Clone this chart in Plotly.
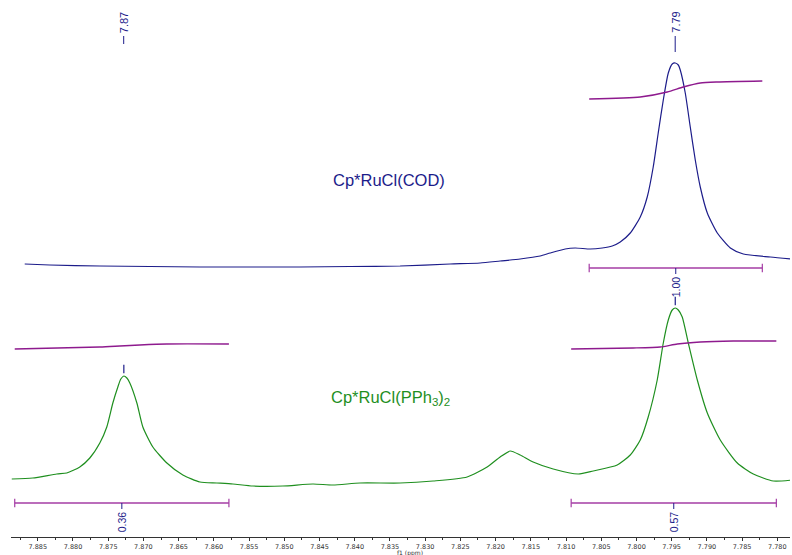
import plotly.graph_objects as go

# 1H NMR, aromatic window, two stacked spectra (ppm axis runs high -> low)
PPM_WINDOW = [7.8888, 7.7782]
PPM_TICKS = [7.885, 7.880, 7.875, 7.870, 7.865, 7.860, 7.855, 7.850, 7.845, 7.840, 7.835,
             7.830, 7.825, 7.820, 7.815, 7.810, 7.805, 7.800, 7.795, 7.790, 7.785, 7.780]

# Cp*RuCl(COD) trace, intensity relative to its own baseline (a.u.)
cod_ppm = [7.88685, 7.88330, 7.87619, 7.86909, 7.86198, 7.85488, 7.84777, 7.84067, 7.83356,
           7.82646, 7.82220, 7.81935, 7.81651, 7.81367, 7.81225, 7.81012, 7.80870, 7.80657,
           7.80486, 7.80344, 7.80230, 7.80088, 7.79946, 7.79847, 7.79762, 7.79691, 7.79619,
           7.79548, 7.79492, 7.79449, 7.79406, 7.79378, 7.79307, 7.79236, 7.79165, 7.79094,
           7.78994, 7.78852, 7.78667, 7.78483, 7.78099, 7.77787]
cod_int = [2, 1, 0, -0.5, -1, -1, -1, -0.5, 0,
           2, 3, 5, 7, 10, 13, 17, 18, 17,
           18, 20, 24, 33, 49, 69, 99, 133, 166,
           193, 202, 203, 201, 196, 173, 139, 106, 79,
           53, 33, 18, 12, 9, 7]

# Cp*RuCl(PPh3)2 trace
pph3_ppm = [7.88869, 7.88571, 7.88230, 7.88088, 7.87903, 7.87761, 7.87619, 7.87520, 7.87434,
            7.87363, 7.87321, 7.87278, 7.87235, 7.87193, 7.87093, 7.87008, 7.86866, 7.86667,
            7.86440, 7.86198, 7.85957, 7.85729, 7.85445, 7.85019, 7.84593, 7.84308, 7.83925,
            7.83356, 7.82887, 7.82404, 7.82120, 7.81935, 7.81793, 7.81651, 7.81467, 7.81182,
            7.80827, 7.80614, 7.80273, 7.80088, 7.79946, 7.79833, 7.79705, 7.79619, 7.79548,
            7.79492, 7.79449, 7.79406, 7.79350, 7.79264, 7.79136, 7.78994, 7.78810, 7.78568,
            7.78341, 7.78057, 7.77787]
pph3_int = [6, 7, 11, 12, 18, 27, 42, 58, 82,
            98, 106, 109, 107, 102, 82, 58, 38, 22,
            10, 3, 2, 1, -1, -1, 1, 0, 2,
            2, 4, 8, 18, 28, 34, 30, 23, 16,
            11, 14, 20, 30, 45, 68, 105, 142, 165,
            175, 177, 175, 168, 142, 105, 72, 45, 22,
            11, 4, 5]

# integral curves (same units, drawn above each trace)
cod_integral_ppm = [7.80671, 7.79946, 7.79563, 7.79335, 7.79094, 7.78852, 7.78213]
cod_integral = [167, 169, 174, 179, 183, 184, 185]
pph3_integral_left_ppm = [7.88827, 7.87619, 7.87335, 7.87051, 7.86667, 7.85786]
pph3_integral_left = [136, 138, 139, 140, 141, 141]
pph3_integral_right_ppm = [7.80927, 7.80046, 7.79662, 7.79420, 7.79094, 7.78625, 7.78014]
pph3_integral_right = [136, 137, 138, 141, 143, 144, 144]

# integration regions and their values
cod_regions = [(7.80671, 7.78213)]
cod_region_values = ["1.00"]
pph3_regions = [(7.88827, 7.85786), (7.80927, 7.78014)]
pph3_region_values = ["0.36", "0.57"]

# picked peaks
pph3_peaks = [7.87278, 7.79449]
peak_labels_ppm = [7.8728, 7.7945]
peak_labels = ["7.87", "7.79"]

BLUE = "#1c1c8a"
GREEN = "#1f8f1f"
PURPLE = "#8e1a8e"
BAR = "#a53ca5"
AXIS = "#333333"
COD_OFFSET = 271
PPH3_OFFSET = 52
Y_TOP = 537

fig = go.Figure()


def add_trace(ppm, inten, offset, color, width=1.2):
    fig.add_trace(go.Scatter(
        x=ppm, y=[v + offset for v in inten], mode="lines",
        line=dict(color=color, width=width, shape="spline", smoothing=0.6),
        hoverinfo="skip", showlegend=False,
    ))


add_trace(cod_ppm, cod_int, COD_OFFSET, BLUE)
add_trace(pph3_ppm, pph3_int, PPH3_OFFSET, GREEN)
add_trace(cod_integral_ppm, cod_integral, COD_OFFSET, PURPLE, 1.4)
add_trace(pph3_integral_left_ppm, pph3_integral_left, PPH3_OFFSET, PURPLE, 1.4)
add_trace(pph3_integral_right_ppm, pph3_integral_right, PPH3_OFFSET, PURPLE, 1.4)

annotations = []

# integration bars with end caps, values written underneath
for regions, values, offset, drop in ((cod_regions, cod_region_values, COD_OFFSET, 2),
                                      (pph3_regions, pph3_region_values, PPH3_OFFSET, 18)):
    for (a, b), val in zip(regions, values):
        ybar = offset - drop
        mid = (a + b) / 2
        fig.add_trace(go.Scatter(
            x=[a, b], y=[ybar, ybar], mode="lines+markers",
            line=dict(color=BAR, width=1.5),
            marker=dict(symbol="line-ns", size=6, line=dict(color=BAR, width=1.2)),
            hoverinfo="skip", showlegend=False,
        ))
        fig.add_trace(go.Scatter(
            x=[mid, mid], y=[ybar, ybar - 6], mode="lines",
            line=dict(color=BLUE, width=1), hoverinfo="skip", showlegend=False,
        ))
        annotations.append(dict(
            x=mid, y=ybar - 6, xref="x", yref="y", text=val, textangle=-90,
            showarrow=False, xanchor="center", yanchor="top",
            font=dict(family="Liberation Sans", size=10.5, color=BLUE),
        ))

# peak pick ticks
peak_y = []
for p in pph3_peaks:
    i = pph3_ppm.index(p)
    peak_y.append(pph3_int[i] + PPH3_OFFSET + 7)
fig.add_trace(go.Scatter(
    x=pph3_peaks, y=peak_y, mode="markers",
    marker=dict(symbol="line-ns", size=6, line=dict(color=BLUE, width=1.2)),
    hoverinfo="skip", showlegend=False,
))

# shift labels along the top with leader lines
for p, lab, low in zip(peak_labels_ppm, peak_labels, (44, 52)):
    annotations.append(dict(
        x=p, y=Y_TOP - 10, xref="x", yref="y", text=lab, textangle=-90,
        showarrow=False, xanchor="center", yanchor="top",
        font=dict(family="Liberation Sans", size=11, color=BLUE),
    ))
    fig.add_trace(go.Scatter(
        x=[p, p], y=[Y_TOP - 36, Y_TOP - low], mode="lines",
        line=dict(color=BLUE, width=1), hoverinfo="skip", showlegend=False,
    ))

annotations.append(dict(
    x=7.83513, y=357, xref="x", yref="y", text="Cp*RuCl(COD)", showarrow=False,
    font=dict(family="Liberation Sans", size=16.5, color=BLUE),
))
annotations.append(dict(
    x=7.83498, y=139, xref="x", yref="y", text="Cp*RuCl(PPh<sub>3</sub>)<sub>2</sub>",
    showarrow=False, font=dict(family="Liberation Sans", size=16.5, color=GREEN),
))
# axis caption tucked under the tick labels, just right of the 7.835 label
annotations.append(dict(
    x=7.8321, y=0, xref="x", yref="paper", yshift=-10, text="f1 (ppm)",
    showarrow=False, xanchor="center", yanchor="top",
    font=dict(family="DejaVu Sans", size=6, color=AXIS),
))

fig.update_layout(
    width=792, height=555,
    margin=dict(l=11, r=2, t=0, b=18),
    plot_bgcolor="white", paper_bgcolor="white",
    annotations=annotations,
)
fig.update_xaxes(
    range=PPM_WINDOW, tickvals=PPM_TICKS, ticktext=[f"{t:.3f}" for t in PPM_TICKS],
    showline=True, linecolor=AXIS, linewidth=1,
    ticks="outside", ticklen=3, tickcolor=AXIS,
    minor=dict(dtick=0.0025, tick0=7.78, ticks="outside", ticklen=2, tickcolor=AXIS),
    tickfont=dict(family="DejaVu Sans", size=6.5, color=AXIS),
    showgrid=False, zeroline=False, automargin=False,
)
fig.update_yaxes(range=[0, Y_TOP], visible=False, fixedrange=True)

# the default page body has an 8px margin; drop it so the figure fills the window
fig.write_html("out.html", config={"displayModeBar": False},
               post_script="document.body.style.margin = '0px';")
